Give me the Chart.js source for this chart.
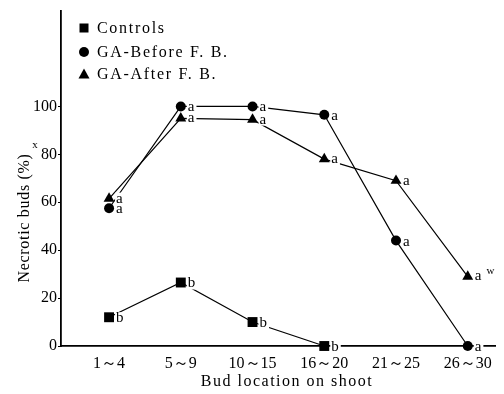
<!DOCTYPE html>
<html>
<head>
<meta charset="utf-8">
<script src="https://cdn.jsdelivr.net/npm/chart.js@4/dist/chart.umd.min.js"></script>
<style>
html,body{margin:0;padding:0;background:#fff;}
#wrap{width:504px;height:394px;position:relative;}
</style>
</head>
<body>
<div id="wrap"><canvas id="c" width="504" height="394"></canvas></div>
<script>
const categories = ['1～4', '5～9', '10～15', '16～20', '21～25', '26～30'];
const yTicks = [0, 20, 40, 60, 80, 100];
const controls = [12, 26.5, 10, 0];
const gaBefore = [57.5, 100, 100, 96.5, 44, 0];
const gaAfter = [61.5, 95, 94.5, 78, 69, 29];
const controlsLetters = ['b', 'b', 'b', 'b'];
const gaBeforeLetters = ['a', 'a', 'a', 'a', 'a', 'a'];
const gaAfterLetters = ['a', 'a', 'a', 'a', 'a', 'a'];
const gaAfterSup = ['', '', '', '', '', 'w'];
const seriesNames = ['Controls', 'GA-Before F. B.', 'GA-After F. B.'];
const xTitle = 'Bud location on shoot';
const yTitle = 'Necrotic buds (%)';
const yTitleSup = 'x';

const SERIF = "'Liberation Serif', 'DejaVu Serif', serif";
const toXY = arr => arr.map((v, i) => ({x: i + 1, y: v}));

const labelPlugin = {
  id: 'labels',
  afterDatasetsDraw(chart) {
    const ctx = chart.ctx;
    const sets = [
      {letters: controlsLetters, sup: null, dy: 1},
      {letters: gaBeforeLetters, sup: null, dy: 1},
      {letters: gaAfterLetters, sup: gaAfterSup, dy: 0}
    ];
    ctx.save();
    ctx.font = '15px ' + SERIF;
    ctx.textBaseline = 'middle';
    ctx.textAlign = 'left';
    sets.forEach((s, di) => {
      const meta = chart.getDatasetMeta(di);
      meta.data.forEach((pt, i) => {
        const t = s.letters[i];
        if (!t) return;
        const x = pt.x + 7, y = pt.y + s.dy;
        const w = ctx.measureText(t).width;
        let extra = 0;
        if (s.sup && s.sup[i]) extra = 12;
        ctx.fillStyle = '#fff';
        ctx.fillRect(x - 1, y - 6, w + 3 + extra, 12);
        ctx.fillStyle = '#000';
        ctx.fillText(t, x, y);
        if (s.sup && s.sup[i]) {
          ctx.font = '11px ' + SERIF;
          ctx.fillText(s.sup[i], x + w + 5, y - 5);
          ctx.font = '15px ' + SERIF;
        }
      });
    });
    // legend
    const rows = [28, 52, 74];
    const styles = ['rect', 'circle', 'triangle'];
    ctx.letterSpacing = '1.7px';
    rows.forEach((ry, i) => {
      ctx.fillStyle = '#000';
      const mx = 84;
      if (styles[i] === 'rect') {
        ctx.fillRect(mx - 4.5, ry - 4.5, 9, 9);
      } else if (styles[i] === 'circle') {
        ctx.beginPath(); ctx.arc(mx, ry, 5, 0, Math.PI * 2); ctx.fill();
      } else {
        ctx.beginPath(); ctx.moveTo(mx, ry - 5.5); ctx.lineTo(mx + 5.5, ry + 4.5); ctx.lineTo(mx - 5.5, ry + 4.5); ctx.closePath(); ctx.fill();
      }
      ctx.font = '16px ' + SERIF;
      ctx.textBaseline = 'middle';
      ctx.fillText(seriesNames[i], 97, ry + 1);
    });
    // x title
    ctx.letterSpacing = '1.5px';
    ctx.font = '16px ' + SERIF;
    ctx.textAlign = 'center';
    ctx.fillText(xTitle, 287, 382);
    // y title sup (unrotated)
    ctx.letterSpacing = '0px';
    ctx.font = '11px ' + SERIF;
    ctx.textAlign = 'center';
    ctx.fillText(yTitleSup, 35, 145);
    // y title
    ctx.letterSpacing = '0.7px';
    ctx.font = '16px ' + SERIF;
    ctx.translate(25, 218);
    ctx.rotate(-Math.PI / 2);
    ctx.textAlign = 'center';
    ctx.fillText(yTitle, 0, 0);
    ctx.letterSpacing = '0px';
    ctx.restore();
  }
};

const common = {borderColor: '#000', backgroundColor: '#000', borderWidth: 1.2, pointBorderWidth: 0, pointHoverRadius: 5, showLine: true, tension: 0, clip: false};

new Chart(document.getElementById('c'), {
  type: 'scatter',
  data: {
    datasets: [
      Object.assign({label: seriesNames[0], data: toXY(controls), pointStyle: 'rect', pointRadius: 7}, common),
      Object.assign({label: seriesNames[1], data: toXY(gaBefore), pointStyle: 'circle', pointRadius: 5}, common),
      Object.assign({label: seriesNames[2], data: toXY(gaAfter), pointStyle: 'triangle', pointRadius: 6.3}, common)
    ]
  },
  options: {
    responsive: false,
    animation: false,
    devicePixelRatio: 1,
    layout: {padding: {top: 3, right: 9, left: 0, bottom: 0}},
    plugins: {legend: {display: false}, tooltip: {enabled: false}},
    scales: {
      x: {
        type: 'linear', min: 0.33, max: 6.38,
        afterBuildTicks: s => { s.ticks = categories.map((c, i) => ({value: i + 1})); },
        afterFit: s => { s.height = 48; },
        grid: {display: false, drawTicks: false},
        border: {display: true, color: '#000', width: 1.8},
        ticks: {color: '#000', font: {family: SERIF, size: 16}, padding: 8, maxRotation: 0, autoSkip: false,
          callback: v => categories[Math.round(v) - 1]}
      },
      y: {
        type: 'linear', min: 0, max: 140,
        afterBuildTicks: s => { s.ticks = yTicks.map(v => ({value: v})); },
        afterFit: s => { s.width = 61; },
        grid: {display: true, drawOnChartArea: false, drawTicks: true, tickLength: 3, color: '#000', lineWidth: 1},
        border: {display: true, color: '#000', width: 1.8},
        ticks: {color: '#000', font: {family: SERIF, size: 16}, padding: 1}
      }
    }
  },
  plugins: [labelPlugin]
});
</script>
</body>
</html>
